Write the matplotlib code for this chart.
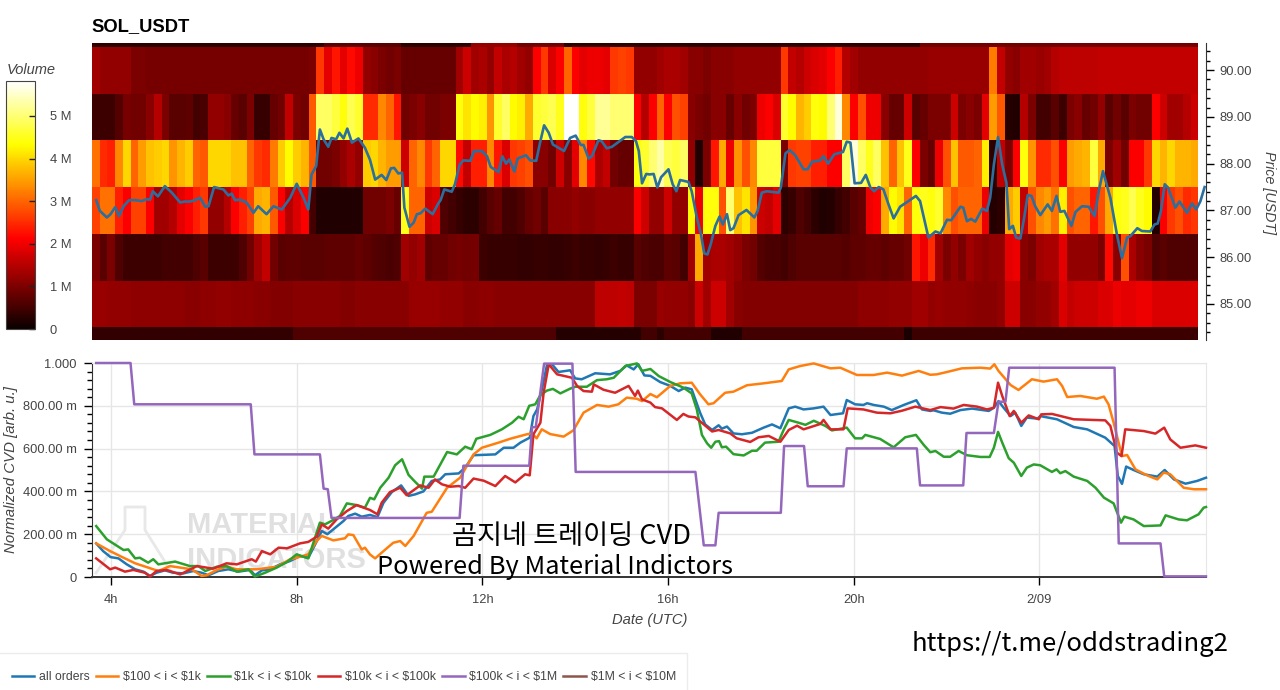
import numpy as np
import matplotlib
matplotlib.use('Agg')
import matplotlib.pyplot as plt
from matplotlib.patches import Rectangle
from matplotlib.ticker import MultipleLocator, FixedLocator

plt.rcParams['font.family'] = ['Liberation Sans', 'DejaVu Sans']

# heatmap: traded volume in millions, one list per price level, 10 minute bins
vol_84 = [.35,.35,.35,.35,.35,.35,.35,.35,.35,.35,.35,.35,
          .35,.35,.35,.35,.35,.35,.35,.35,.35,.35,.35,.35,
          .35,.35,.6,.6,.6,.6,.6,.6,.6,.6,.6,.6,
          .6,.6,.6,.6,.6,.6,.6,.6,.6,.6,.6,.6,
          .6,.6,.6,.6,.6,.6,.6,.6,.6,.6,.6,.6,
          .25,.25,.25,.25,.25,.25,.25,.25,.25,.25,.25,.5,
          .5,.3,.5,.5,.5,.5,.5,.5,.2,.2,.2,.2,
          .5,.5,.5,.5,.5,.5,.5,.5,.5,.5,.5,.5,
          .5,.5,.5,.5,.5,.5,.5,.5,.5,.15,.45,.45,
          .45,.45,.45,.45,.45,.45,.45,.45,.45,.45,.45,.45,
          .45,.45,.45,.45,.45,.45,.45,.45,.45,.45,.45,.45,
          .45,.45,.45,.45,.45,.45,.45,.45,.45,.45,.45]
vol_85 = [1.25,1.25,1.2,1.2,1.2,1.15,1.15,1.15,1.15,1.15,1.15,1.15,
          1.1,1.1,1.15,1.15,1.2,1.2,1.15,1.15,1.15,1.1,1.1,1.05,
          1.05,1.05,1.1,1.1,1.1,1.1,1.1,1.1,1.05,1.05,1.1,1.1,
          1.1,1.1,1.1,1.1,1.1,1.25,1.25,1.25,1.25,1.2,1.2,1.2,
          1.1,1.1,1.15,1.15,1.1,1.1,1.1,1.1,1.1,1.1,1.1,1.1,
          1.1,1.1,1.1,1.1,1.1,1.55,1.55,1.55,1.6,1.55,1.0,1.0,
          1.0,1.25,1.2,1.2,1.2,1.1,1.7,1.3,1.7,1.7,1.3,1.1,
          1.05,1.05,1.05,1.05,1.05,1.05,1.05,1.05,1.05,1.05,1.05,1.05,
          1.05,1.05,1.05,1.15,1.15,1.15,1.15,1.2,1.2,1.2,1.3,1.3,
          1.2,1.25,1.2,1.2,1.2,1.15,1.1,1.1,1.1,1.2,1.7,1.7,
          1.1,1.1,1.2,1.2,1.3,1.8,1.6,1.7,1.7,1.7,1.8,1.8,
          2.0,1.9,1.9,2.0,2.0,1.8,1.8,1.8,1.8,1.8,1.8]
vol_86 = [1.0,.7,1.0,.6,.45,.45,.45,.45,.45,.5,.5,.5,
          .5,.6,.7,.45,.45,.45,.45,.6,.9,1.3,1.6,.9,
          .7,.75,.75,.7,.7,.7,.75,.75,.75,.75,.8,.75,
          .65,.6,.55,.6,1.3,1.2,1.3,.75,.8,.8,.9,.95,
          .9,.95,.45,.4,.4,.4,.4,.35,.35,.4,.4,.35,
          .35,.4,.45,.4,.4,.35,.4,.45,.4,.4,.7,.6,
          .55,.55,.75,.7,.5,1.3,3.6,1.3,1.4,1.4,1.3,1.2,
          1.0,.9,.65,.55,.55,.5,.6,.7,.7,.7,.7,.7,
          .7,.65,.75,.75,.8,.8,.75,.8,.8,.9,2.3,2.0,
          2.5,1.3,1.0,1.2,1.0,1.3,1.2,1.1,1.2,1.2,1.9,2.0,
          1.1,1.0,1.3,1.4,1.4,1.9,1.2,1.2,1.2,1.2,1.0,2.2,
          1.1,2.8,1.4,1.1,1.0,.6,.7,.6,.6,.6,.6]
vol_87 = [2.7,3.1,3.1,2.4,2.1,2.7,2.7,2.1,1.3,1.3,1.5,1.9,
          2.1,2.4,2.6,1.2,1.2,1.5,2.1,2.4,2.7,3.6,3.7,2.9,
          2.1,1.5,1.8,2.1,.5,.2,.2,.2,.2,.2,.2,.9,
          .9,.9,1.0,.8,4.5,3.0,3.0,1.7,1.8,.6,.5,.4,
          .3,.3,.5,.7,.8,.5,.5,.6,.8,.9,.7,1.1,
          1.1,1.1,1.2,1.1,1.1,1.2,1.2,1.2,1.2,1.2,2.1,1.7,
          1.2,1.2,1.7,1.2,1.2,4.3,2.0,4.4,4.4,2.8,5.0,3.8,
          4.1,3.4,1.7,1.6,1.9,.3,.4,.6,.5,.3,.2,.25,
          .4,.5,.7,.8,2.0,2.1,3.6,4.3,4.1,3.0,4.4,4.5,
          4.4,4.6,3.3,2.8,3.0,3.0,3.0,2.0,.25,.3,3.6,3.9,
          1.6,2.8,3.3,3.5,3.1,4.2,2.8,3.0,3.0,2.3,2.8,3.6,
          4.4,4.5,4.8,4.5,4.3,.25,2.1,2.6,2.8,2.5,2.6]
vol_88 = [3.1,2.5,2.4,3.3,4.0,3.0,3.5,3.8,3.9,4.0,3.4,3.7,
          3.9,3.0,2.9,4.0,4.0,4.0,3.8,3.8,3.0,2.6,2.5,3.2,
          3.9,4.3,3.9,3.7,2.9,.9,.9,1.0,1.2,1.4,1.2,3.9,
          4.0,3.7,3.5,3.5,1.7,3.0,3.3,2.6,3.0,4.0,4.0,2.2,
          1.6,2.4,2.4,3.3,2.3,1.8,2.6,2.7,2.8,1.1,1.1,.9,
          1.7,1.1,1.9,3.3,2.2,1.4,1.6,.9,.8,.8,4.4,4.6,
          5.0,5.3,4.8,4.7,4.9,1.2,.2,1.0,2.3,3.6,2.0,3.4,
          2.8,3.3,4.7,4.7,4.7,1.0,2.6,2.7,2.7,2.4,2.4,2.1,
          2.1,4.9,5.6,4.9,4.5,4.9,3.8,3.0,3.8,4.5,2.1,1.0,
          .8,2.0,2.8,3.8,2.9,2.9,3.0,4.2,.3,1.6,1.0,2.1,
          4.4,3.4,2.5,2.5,2.8,2.1,3.5,3.6,3.7,4.7,3.6,1.0,
          1.3,.9,2.1,2.1,2.6,4.0,3.7,4.0,3.7,3.7,3.6]
vol_89 = [.45,.45,.45,.65,.95,.9,.9,1.1,1.5,1.0,.7,.7,
          .75,.5,.55,1.2,1.2,1.1,.8,.7,1.0,.4,.4,.8,
          .9,1.6,1.0,.9,2.9,4.9,4.9,4.7,4.4,4.8,4.6,2.5,
          2.5,3.3,3.0,2.3,.9,1.0,1.1,.9,.9,1.0,1.0,4.4,
          4.1,4.3,4.2,3.4,4.6,4.9,4.3,4.2,3.6,4.6,4.7,4.8,
          4.5,5.8,5.8,4.4,4.7,5.2,5.2,5.0,5.0,5.0,2.1,1.5,
          2.1,3.0,2.1,2.8,2.7,1.1,1.0,.9,1.1,1.1,.8,1.1,
          .9,1.0,2.0,2.1,1.8,4.6,4.3,3.7,3.9,4.4,4.3,5.0,
          5.6,3.3,2.1,2.8,2.0,2.0,1.1,.8,.8,1.7,.7,.8,
          1.0,1.0,1.0,1.7,1.0,1.1,1.0,1.9,3.5,2.9,.25,.2,
          1.5,1.0,.5,.5,.7,.45,1.0,1.1,.8,.9,1.2,.7,
          .9,.7,1.0,.9,.9,2.1,1.7,1.3,1.3,1.5,1.7]
vol_90 = [1.3,1.2,1.2,1.2,1.2,1.0,1.0,.95,.95,.95,.95,.95,
          .95,.95,.95,.95,.95,.95,.95,.95,.95,.95,.95,.95,
          .95,.95,.95,.95,1.0,2.6,1.9,2.3,1.9,2.2,2.0,1.2,
          1.1,1.0,.9,1.0,.8,.8,.8,.8,.8,.8,.8,1.3,
          1.7,1.3,1.4,1.2,1.6,1.4,1.5,1.3,1.2,2.1,2.6,1.8,
          2.1,3.0,2.1,1.9,2.0,2.0,1.9,2.6,2.7,2.6,1.2,1.2,
          1.2,1.3,1.4,1.4,1.3,1.1,1.1,1.0,1.1,1.1,1.1,1.2,
          1.2,1.2,1.2,1.2,1.2,2.6,1.6,1.5,1.7,1.8,1.9,2.1,
          2.4,1.5,1.3,1.2,1.2,1.2,1.2,1.2,1.2,1.2,1.2,1.2,
          1.25,1.25,1.25,1.25,1.25,1.25,1.25,1.25,3.2,1.6,1.2,1.1,
          1.3,1.3,1.25,1.3,1.5,1.55,1.55,1.55,1.55,1.55,1.6,1.6,
          1.6,1.6,1.6,1.6,1.6,1.6,1.6,1.6,1.6,1.6,1.6]
vol_91 = [.3,.3,.3,.3,.3,.3,.3,.3,.3,.3,.3,.3,
          .3,.3,.3,.3,.3,.3,.3,.3,.3,.3,.3,.3,
          .3,.3,.3,.3,.3,.3,.7,.7,.7,.7,.7,.7,
          .7,.7,.7,.7,.3,.3,.3,.3,.3,.3,.3,.3,
          .3,1.2,1.2,1.2,1.2,1.2,1.2,.9,.9,.9,.9,.9,
          .9,.3,.3,.3,.3,.3,.3,.3,.3,.3,.3,.3,
          .3,.3,.3,.3,.3,.3,.3,.3,.3,.3,.3,.3,
          .3,.3,.3,.3,.3,.3,.3,.3,.3,.3,.3,.3,
          .3,.3,.3,.3,.3,.3,.3,.3,.3,.3,.3,.9,
          .9,.9,.9,.9,.9,.9,.9,.9,.9,.9,.9,.9,
          .9,.9,.9,.9,.9,.9,.9,.9,.9,.9,.9,.9,
          .9,.9,.9,.9,.9,.9,.9,.9,.9,.9,.9]
price_levels = [84.23, 84.5, 85.5, 86.5, 87.5, 88.5, 89.5, 90.5, 90.58]

# price line
price_h = [3.68,3.76,3.91,3.99,4.09,4.17,4.27,4.39,4.52,4.66,4.77,4.84,4.90,5.01,5.16,5.31,5.49,5.59,5.70,5.81,5.92,6.03,6.10,6.22,6.42,6.53,6.60,6.67,6.78,6.92,7.07,7.17,7.35,7.50,7.68,7.86,8.00,8.15,8.25,8.32,8.42,8.50,8.58,8.68,8.75,8.85,8.92,9.01,9.09,9.19,9.33,9.47,9.58,
           9.69,9.83,9.93,10.03,10.10,10.19,10.27,10.32,10.43,10.52,10.59,10.67,10.77,10.93,11.05,11.10,11.18,11.34,11.41,11.51,11.59,11.74,11.82,11.99,12.10,12.18,12.35,12.43,12.51,12.58,12.69,12.76,12.94,13.03,13.16,13.25,13.33,13.43,13.52,13.64,13.76,13.89,14.01,14.12,14.18,14.29,14.36,14.50,14.57,14.68,14.79,15.08,15.22,15.31,15.37,15.44,15.53,15.60,
           15.69,15.77,15.85,16.01,16.10,16.18,16.26,16.44,16.51,16.62,16.71,16.78,16.85,16.92,17.02,17.11,17.18,17.27,17.34,17.41,17.52,17.69,17.86,17.93,18.02,18.13,18.38,18.43,18.53,18.62,18.74,18.92,19.01,19.10,19.28,19.35,19.45,19.58,19.77,19.85,19.93,20.02,20.16,20.26,20.36,20.44,20.54,20.64,20.75,20.86,21.00,21.18,21.34,21.43,21.53,21.61,
           21.76,21.87,22.01,22.10,22.30,22.36,22.44,22.53,22.62,22.77,22.87,22.94,23.02,23.11,23.20,23.29,23.35,23.43,23.50,23.59,23.66,23.75,23.83,23.91,24.02,24.18,24.27,24.37,24.45,24.54,24.69,24.78,24.92,25.06,25.19,25.28,25.37,25.53,25.67,25.78,25.89,25.96,26.11,26.21,26.39,26.48,26.55,26.62,26.70,26.77,26.93,27.02,27.18,27.29,27.38,27.47,27.56]
price_v = [87.22,86.99,86.85,86.92,87.07,86.88,87.09,87.22,87.22,87.20,87.24,87.23,87.41,87.30,87.52,87.38,87.17,87.19,87.19,87.22,87.27,87.08,87.09,87.50,87.45,87.32,87.36,87.22,87.23,87.17,86.95,87.09,86.92,87.09,87.02,87.27,87.57,87.27,87.02,87.77,87.95,88.73,88.52,88.36,88.55,88.52,88.66,88.54,88.75,88.45,88.54,88.34,88.08,
           87.66,87.76,87.65,87.90,87.91,87.79,87.81,87.06,86.65,86.74,86.92,86.94,87.04,86.92,87.15,87.22,87.45,87.40,87.56,87.98,88.07,88.06,88.27,88.27,88.16,87.93,87.82,88.16,88.00,88.09,87.83,88.11,88.18,88.07,88.06,88.48,88.82,88.66,88.41,88.34,88.27,88.55,88.60,88.40,88.40,88.11,88.16,88.50,88.48,88.33,88.36,88.57,88.57,88.48,88.27,87.58,87.78,87.77,
           87.78,87.49,87.71,87.88,87.56,87.41,87.65,87.61,87.41,86.85,86.49,86.08,86.06,86.28,86.67,86.87,86.70,86.92,86.58,86.62,86.90,87.01,86.85,86.99,87.38,87.41,87.38,87.49,88.22,88.29,88.18,87.88,87.88,88.04,88.07,88.16,88.00,88.20,88.25,88.47,88.45,87.58,87.59,87.76,87.49,87.41,87.50,87.45,87.13,86.83,87.08,87.20,87.31,87.20,86.77,86.42,
           86.55,86.51,86.80,86.79,87.08,87.06,86.77,86.82,86.76,87.04,86.99,87.27,87.98,88.57,87.98,87.59,86.60,86.67,86.42,86.40,86.77,87.33,87.31,87.09,86.90,87.13,86.99,87.31,86.97,86.99,86.67,86.97,87.09,87.08,86.88,87.41,87.84,87.27,86.49,85.98,86.42,86.45,86.62,86.56,86.55,86.70,86.72,86.99,87.56,87.49,87.06,87.19,86.95,87.15,87.02,87.20,87.50]

# normalized cvd per order size
all_h = [3.68,3.83,3.99,4.16,4.34,4.52,4.70,4.84,4.98,5.16,5.34,5.56,5.77,5.95,6.10,6.31,6.53,6.74,7.00,7.10,7.25,7.43,7.64,7.86,8.07,8.25,8.40,8.54,8.66,8.83,9.01,9.11,9.26,9.40,9.58,
         9.74,9.87,10.05,10.25,10.41,10.55,10.73,10.91,11.09,11.20,11.49,11.63,11.81,12.28,12.46,12.67,12.82,13.02,13.10,13.18,13.28,13.39,13.50,13.64,13.89,14.00,14.14,14.43,14.75,14.97,15.11,15.26,15.36,15.49,15.62,
         15.83,16.05,16.23,16.37,16.51,16.69,16.80,16.95,17.09,17.16,17.27,17.41,17.59,17.81,18.06,18.24,18.42,18.60,18.74,18.92,19.14,19.35,19.50,19.77,19.85,20.03,20.21,20.29,20.43,20.65,20.82,21.08,21.35,21.47,21.65,
         21.72,21.90,22.08,22.30,22.55,22.91,23.02,23.12,23.23,23.38,23.48,23.61,23.73,23.96,24.02,24.38,24.74,25.03,25.42,25.62,25.69,25.78,25.87,26.03,26.25,26.54,26.70,26.90,27.15,27.40,27.59]
all_v = [.157,.121,.093,.087,.059,.036,.025,.005,.02,.031,.02,.017,.028,.02,.008,.028,.036,.025,.033,.008,.031,.036,.059,.075,.098,.09,.153,.215,.20,.23,.262,.285,.296,.282,.29,
         .28,.347,.397,.428,.379,.386,.40,.449,.456,.48,.484,.511,.569,.573,.604,.604,.628,.651,.752,.783,.874,.989,.994,.958,.966,.928,.924,.952,.947,.963,.989,.97,.994,.942,.94,
         .911,.893,.869,.885,.877,.768,.713,.687,.709,.693,.703,.671,.667,.674,.698,.713,.695,.788,.796,.783,.788,.796,.757,.765,.827,.807,.804,.812,.804,.796,.78,.804,.826,.783,.776,
         .779,.768,.763,.78,.787,.776,.791,.822,.791,.752,.768,.706,.745,.74,.752,.737,.701,.69,.651,.612,.472,.435,.516,.50,.48,.469,.50,.456,.436,.449,.464]
k1_h = [3.68,3.98,4.27,4.52,4.80,5.02,5.27,5.49,5.74,5.95,6.06,6.28,6.49,6.71,7.14,7.57,7.86,8.00,8.25,8.43,8.54,8.79,9.04,9.11,9.22,9.40,9.47,9.58,
        9.69,9.87,10.08,10.23,10.34,10.52,10.80,10.91,11.24,11.52,11.81,11.99,12.35,12.60,12.96,13.07,13.17,13.28,13.46,13.75,13.96,14.18,14.47,14.72,14.93,15.11,15.33,15.44,15.62,
        15.76,16.05,16.26,16.51,16.69,16.87,16.98,17.23,17.41,17.70,18.06,18.45,18.60,18.85,19.14,19.50,19.71,20.07,20.43,20.72,21.04,21.40,21.65,
        21.79,22.01,22.33,22.73,22.94,23.03,23.12,23.38,23.55,23.84,24.09,24.38,24.49,24.60,24.88,25.24,25.39,25.49,25.60,25.78,25.89,26.07,26.32,26.54,26.68,26.82,27.11,27.33,27.59]
k1_v = [.157,.121,.09,.064,.044,.028,.051,.044,.036,.005,.008,.033,.048,.036,.036,.048,.083,.09,.106,.168,.192,.171,.181,.199,.196,.129,.137,.105,
        .087,.121,.16,.168,.145,.192,.30,.305,.417,.464,.573,.604,.628,.646,.667,.671,.648,.69,.668,.656,.685,.768,.804,.796,.807,.838,.833,.822,.855,
        .84,.893,.905,.908,.854,.807,.812,.861,.866,.896,.905,.916,.97,.986,.998,.975,.978,.944,.944,.955,.941,.963,.945,
        .947,.958,.975,.978,.974,.994,.963,.897,.874,.924,.913,.924,.893,.841,.846,.833,.843,.807,.721,.565,.57,.503,.475,.456,.488,.48,.417,.41,.41]
k10_h = [3.68,3.91,4.27,4.37,4.52,4.62,4.80,4.91,5.02,5.38,5.70,5.88,6.03,6.28,6.49,6.71,6.96,7.10,7.32,7.57,7.79,8.00,8.25,8.36,8.50,8.61,8.75,8.93,9.08,9.29,9.47,9.58,
         9.67,9.80,9.98,10.12,10.27,10.41,10.55,10.70,10.75,10.95,11.24,11.45,11.63,11.77,11.87,12.17,12.42,12.64,12.78,12.89,13.01,13.14,13.25,13.39,13.52,13.68,13.89,14.00,14.25,14.47,14.68,14.83,15.08,15.33,15.44,15.62,
         15.80,16.05,16.33,16.51,16.62,16.73,16.84,16.93,17.02,17.10,17.16,17.25,17.41,17.63,17.81,17.91,18.09,18.38,18.49,18.60,18.78,18.96,19.14,19.39,19.53,19.85,20.03,20.18,20.25,20.57,20.86,21.11,21.34,21.51,21.65,
         21.76,21.94,22.08,22.26,22.44,22.73,22.93,23.02,23.11,23.20,23.34,23.45,23.61,23.73,23.88,24.02,24.27,24.37,24.45,24.56,24.74,25.03,25.21,25.39,25.60,25.76,25.83,26.03,26.25,26.61,26.72,27.00,27.18,27.43,27.54,27.59]
k10_v = [.238,.176,.126,.129,.087,.09,.067,.083,.059,.072,.051,.051,.028,.048,.051,.025,.036,.002,.02,.044,.07,.106,.087,.16,.254,.246,.262,.285,.344,.336,.324,.37,
         .363,.417,.464,.522,.55,.477,.445,.413,.469,.469,.584,.573,.609,.597,.646,.664,.69,.721,.749,.737,.80,.807,.85,.871,.879,.858,.88,.889,.889,.92,.924,.931,.986,.998,.963,.972,
         .939,.911,.885,.858,.783,.664,.625,.604,.632,.635,.606,.609,.574,.568,.59,.59,.628,.632,.687,.734,.723,.711,.73,.706,.685,.698,.648,.648,.664,.645,.606,.653,.664,.617,.583,
         .589,.562,.562,.589,.569,.561,.561,.604,.678,.628,.555,.534,.472,.511,.526,.522,.491,.503,.485,.495,.469,.449,.417,.371,.344,.254,.282,.269,.238,.241,.288,.269,.265,.293,.324,.327]
k100_h = [3.68,3.98,4.09,4.30,4.48,4.73,4.84,4.98,5.20,5.49,5.85,6.20,6.49,6.71,7.03,7.12,7.25,7.43,7.61,7.79,8.07,8.25,8.43,8.54,8.68,8.86,9.08,9.29,9.58,
          9.74,9.83,10.01,10.23,10.37,10.66,10.84,10.98,11.13,11.31,11.49,11.63,11.81,12.03,12.28,12.49,12.71,12.92,13.02,13.10,13.25,13.32,13.43,13.61,13.93,14.04,14.18,14.36,14.40,14.61,14.86,15.15,15.29,15.35,15.44,15.62,
          15.72,15.87,16.19,16.33,16.44,16.59,16.95,17.09,17.34,17.48,17.77,17.95,18.17,18.42,18.60,18.78,18.92,19.28,19.35,19.50,19.78,19.87,20.21,20.50,20.79,21.04,21.33,21.65,
          21.87,22.15,22.37,22.66,22.87,23.02,23.11,23.20,23.36,23.45,23.61,23.77,23.99,24.04,24.27,24.74,25.42,25.53,25.67,25.77,25.85,26.25,26.50,26.69,26.82,27.04,27.36,27.59]
k100_v = [.087,.036,.044,.025,.033,.02,.002,.028,.033,.012,.051,.039,.064,.059,.083,.072,.121,.106,.137,.134,.157,.164,.188,.246,.226,.269,.308,.336,.313,
          .293,.347,.397,.417,.382,.428,.417,.456,.433,.422,.425,.417,.46,.45,.425,.472,.442,.48,.475,.667,.721,.861,.994,.947,.931,.893,.869,.866,.90,.875,.861,.893,.846,.871,.83,.815,
          .794,.788,.734,.762,.75,.746,.68,.687,.671,.648,.631,.653,.659,.632,.687,.707,.69,.715,.734,.69,.69,.788,.783,.768,.765,.777,.796,.78,
          .794,.787,.804,.796,.783,.791,.908,.846,.752,.776,.721,.755,.737,.76,.762,.737,.732,.706,.581,.565,.69,.682,.67,.698,.643,.604,.615,.604]
m1_h = [3.68,4.42,4.50,7.01,7.09,8.50,8.58,8.67,8.75,11.51,11.59,13.01,13.07,13.15,13.33,13.94,14.01,16.59,16.77,17.02,17.09,18.43,18.50,18.93,19.01,19.78,19.85,21.36,21.43,22.36,22.43,23.02,23.12,23.27,23.35,25.62,25.71,26.61,26.69,27.59]
m1_v = [1.0,1.0,.807,.807,.573,.573,.413,.41,.276,.276,.52,.52,.70,.70,.997,.997,.491,.491,.148,.148,.30,.30,.612,.612,.424,.424,.601,.601,.428,.428,.673,.673,.819,.819,.978,.978,.157,.157,.003,.003]

series_labels = ['all orders', r'\$100 < i < \$1k', r'\$1k < i < \$10k', r'\$10k < i < \$100k',
                 r'\$100k < i < \$1M', r'\$1M < i < \$10M']
series_colors = ['#1f77b4', '#ff7f0e', '#2ca02c', '#d62728', '#9467bd', '#8c564b']
time_ticks = [4, 8, 12, 16, 20, 24]
time_labels = ['4h', '8h', '12h', '16h', '20h', '2/09']
cvd_ticks = [0, .2, .4, .6, .8, 1.0]
cvd_labels = ['0', '200.00 m', '400.00 m', '600.00 m', '800.00 m', '1.000']
vol_ticks = [0, 1, 2, 3, 4, 5]
vol_labels = ['0', '1 M', '2 M', '3 M', '4 M', '5 M']

TXT = '#444444'
GRID = '#e6e6e6'
W, H = 1280, 690
XLIM = (3.59, 27.59)


def px_axes(left, top, right, bottom):
    return fig.add_axes([left / W, 1 - bottom / H, (right - left) / W, (bottom - top) / H])


def fx(x):
    return x / W


def fy(y):
    return 1 - y / H


fig = plt.figure(figsize=(12.8, 6.9), dpi=100)

# top panel: heatmap with price on the right
ax = px_axes(92, 43, 1206, 340)
vol = np.array([vol_84, vol_85, vol_86, vol_87, vol_88, vol_89, vol_90, vol_91])
t_edges = XLIM[0] + np.arange(vol.shape[1] + 1) / 6
mesh = ax.pcolormesh(t_edges, price_levels, vol, cmap='hot', vmin=0, vmax=5.82, shading='flat')
ax.plot(price_h, price_v, color='#2b6f9e', lw=1.9)
ax.set_xlim(*XLIM)
ax.set_ylim(price_levels[0], price_levels[-1])
ax.yaxis.tick_right()
ax.yaxis.set_major_locator(MultipleLocator(1))
ax.yaxis.set_minor_locator(MultipleLocator(.2))
ax.yaxis.set_major_formatter('{x:.2f}')
ax.tick_params(axis='y', which='major', length=5.5, width=1, labelsize=9.3, labelcolor=TXT, pad=4)
ax.tick_params(axis='y', which='minor', length=3, width=1)
ax.set_xticks([])
for s in ['top', 'left', 'bottom']:
    ax.spines[s].set_visible(False)
ax.spines['right'].set_color('#333333')
ax.set_title('SOL_USDT', loc='left', fontweight='bold', fontsize=13.2, pad=8.5, x=-.0003)
fig.text(fx(1269), fy(193), 'Price [USDT]', rotation=270, style='italic', fontsize=10.3,
         color=TXT, ha='center', va='center')

# colorbar on the far left
cax = px_axes(6, 81, 35, 329)
cb = fig.colorbar(mesh, cax=cax)
cb.set_ticks(vol_ticks, labels=vol_labels)
cb.ax.tick_params(direction='in', length=4, width=1, color='#222222', labelsize=9.3, labelcolor=TXT, pad=10.5)
cb.ax.minorticks_off()
cb.outline.set_edgecolor('#444444')
fig.text(fx(7), fy(70), 'Volume', style='italic', fontsize=10.5, color=TXT, va='center')

# bottom panel: cvd lines
ax2 = px_axes(92, 363, 1206, 577)
ax2.set_axisbelow(True)
ax2.grid(True, color=GRID, lw=1)

# watermark behind the lines
flask_x = [96, 125, 125, 145, 145, 172]
flask_y = [573, 530, 507, 507, 530, 573]
ax2.plot([fx(v) for v in flask_x], [fy(v) for v in flask_y], color='#e8e8e8', lw=2,
         transform=fig.transFigure, zorder=1)
for txt, y in [('MATERIAL', 525), ('INDICATORS', 560)]:
    ax2.text(fx(187), fy(y), txt, transform=fig.transFigure, color='#e0e0e0', fontsize=21,
             fontweight='bold', family='Liberation Sans', va='center', zorder=1)

series_h = [all_h, k1_h, k10_h, k100_h, m1_h]
series_v = [all_v, k1_v, k10_v, k100_v, m1_v]
for h, v, c, lab in zip(series_h, series_v, series_colors, series_labels):
    ax2.plot(h, v, color=c, lw=1.8, label=lab, zorder=3, clip_on=False, solid_joinstyle='round')
# the last bucket has nothing to draw, it only shows in the legend
ax2.plot([], [], color=series_colors[5], lw=1.8, label=series_labels[5])

ax2.set_xlim(*XLIM)
ax2.set_ylim(0, 1)
ax2.set_xticks(time_ticks, time_labels)
ax2.set_yticks(cvd_ticks, cvd_labels)
ax2.yaxis.set_minor_locator(FixedLocator(np.arange(0, 1.001, .04)))
ax2.tick_params(axis='both', which='major', length=6, width=1, labelsize=9.3, labelcolor=TXT)
ax2.tick_params(axis='y', which='minor', length=3.5, width=1)
ax2.tick_params(axis='x', pad=6)
ax2.tick_params(axis='y', pad=5)
ax2.spines['top'].set_color(GRID)
ax2.spines['right'].set_color(GRID)
ax2.spines['left'].set_color('#333333')
ax2.spines['bottom'].set_color('#333333')
ax2.spines['bottom'].set_linewidth(1.4)

fig.text(fx(11), fy(470), 'Normalized CVD [arb. u.]', rotation=90, style='italic', fontsize=10.8,
         color=TXT, ha='center', va='center')
fig.text(fx(650), fy(620), 'Date (UTC)', style='italic', fontsize=10.6, color=TXT, ha='center', va='center')

# legend box runs off the bottom edge in the screenshot, so the frame is its own patch
fig.add_artist(Rectangle((fx(-2), fy(695)), fx(689), fy(653) - fy(695), transform=fig.transFigure,
                         facecolor='white', edgecolor='#ececec', lw=1))
handles, labels = ax2.get_legend_handles_labels()
leg = fig.legend(handles, labels, ncol=6, loc='center left', bbox_to_anchor=(fx(-8), fy(677)),
                 fontsize=8.8, labelcolor=TXT, handlelength=1.85, handletextpad=.4, columnspacing=.48,
                 frameon=False, borderpad=1.6, borderaxespad=0)

# text pasted on top of the chart
cjk = ['Noto Sans CJK KR', 'DejaVu Sans']
fig.text(fx(572), fy(537), '곰지네 트레이딩 CVD', family=cjk, fontsize=19.6, color='black', ha='center', va='center', fontweight='medium')
fig.text(fx(555), fy(567), 'Powered By Material Indictors', family=cjk, fontsize=18.3, color='black', ha='center', va='center', fontweight='medium')
fig.text(fx(1070), fy(644), 'https://t.me/oddstrading2', family=cjk, fontsize=18.5, color='black', ha='center', va='center', fontweight='medium')

fig.savefig('out.png', dpi=100)
